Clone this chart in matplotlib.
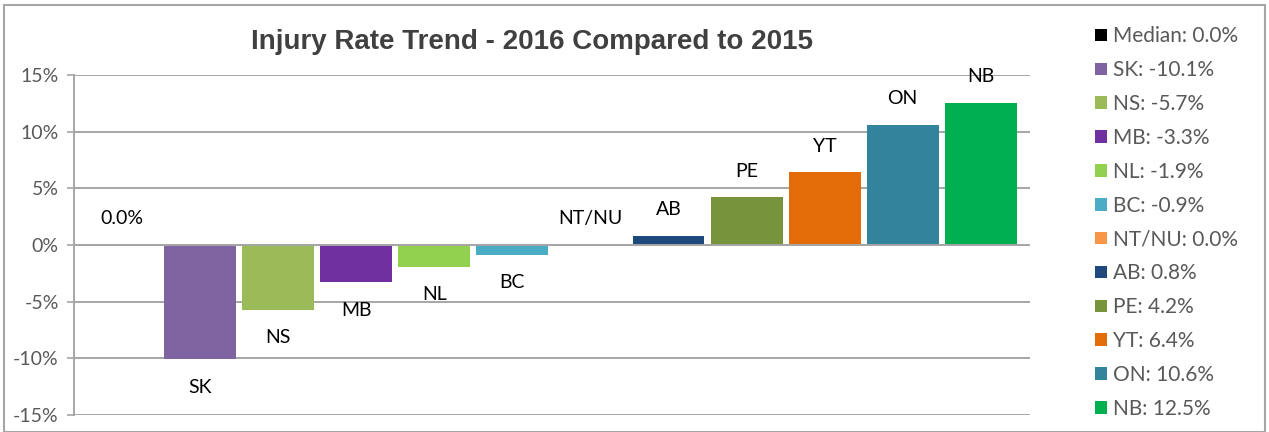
import matplotlib
matplotlib.use("Agg")
import matplotlib.pyplot as plt
from matplotlib.patches import Patch, Rectangle
from matplotlib.ticker import FuncFormatter

# data
categories = ["Median", "SK", "NS", "MB", "NL", "BC", "NT/NU", "AB", "PE", "YT", "ON", "NB"]
values = [0.0, -10.1, -5.7, -3.3, -1.9, -0.9, 0.0, 0.8, 4.2, 6.4, 10.6, 12.5]
colors = ["#000000", "#8064A2", "#9BBB59", "#7030A0", "#92D050", "#4BACC6",
          "#F79646", "#1F497D", "#77933C", "#E36C09", "#31849B", "#00B050"]
bar_labels = ["0.0%"] + categories[1:]
yticks = [-15, -10, -5, 0, 5, 10, 15]

GREY = "#595959"
GRID = "#A6A6A6"
BODY = "Lato"

W, H = 1269, 432
fig = plt.figure(figsize=(W / 100, H / 100), dpi=100)
ax = fig.add_axes([74 / W, (H - 415) / H, (1030 - 74) / W, (415 - 75) / H])

xs = list(range(len(categories)))
ax.bar(xs, values, width=0.92, color=colors, zorder=3)

for x, v, lab in zip(xs, values, bar_labels):
    off = -20 if v < 0 else 19
    ax.annotate(lab, (x, v), xytext=(0, off), textcoords="offset points",
                ha="center", va="center", fontsize=14, family=BODY, color="black")

ax.set_xlim(-0.615, 11.63)
ax.set_ylim(-15, 15)
ax.set_yticks(yticks)
ax.yaxis.set_major_formatter(FuncFormatter(lambda v, _: f"{v:.0f}%"))
ax.tick_params(axis="y", length=5, width=1.2, color=GRID, labelsize=14, labelcolor=GREY, pad=6)
for t in ax.get_yticklabels():
    t.set_family(BODY)
ax.set_xticks([])
ax.grid(axis="y", color=GRID, lw=1.4, zorder=0)
ax.axhline(0, color=GRID, lw=1.4, zorder=4)
for s in ["top", "right", "bottom"]:
    ax.spines[s].set_visible(False)
ax.spines["left"].set_color(GRID)
ax.spines["left"].set_linewidth(1.4)

fig.text(532 / W, 1 - 42 / H, "Injury Rate Trend - 2016 Compared to 2015", ha="center", va="center",
         fontsize=20, fontweight="bold", family="Liberation Sans", color="#404040")

handles = [Patch(facecolor=c, edgecolor="none") for c in colors]
leg_labels = [f"{c}: {v:.1f}%" for c, v in zip(categories, values)]
leg = fig.legend(handles, leg_labels, loc="upper left", bbox_to_anchor=(1087 / W, 1 - 18 / H),
                 frameon=False, prop={"family": BODY, "size": 15}, handlelength=0.55,
                 handleheight=0.55, handletextpad=0.3, labelspacing=0.665, borderaxespad=0)
for t in leg.get_texts():
    t.set_color(GREY)

# outer chart border
fig.patches.append(Rectangle((4 / W, 0), (W - 8) / W, (H - 5) / H, transform=fig.transFigure,
                             fill=False, edgecolor="#A6A6A6", lw=1.5))

fig.savefig("out.png", dpi=100)
